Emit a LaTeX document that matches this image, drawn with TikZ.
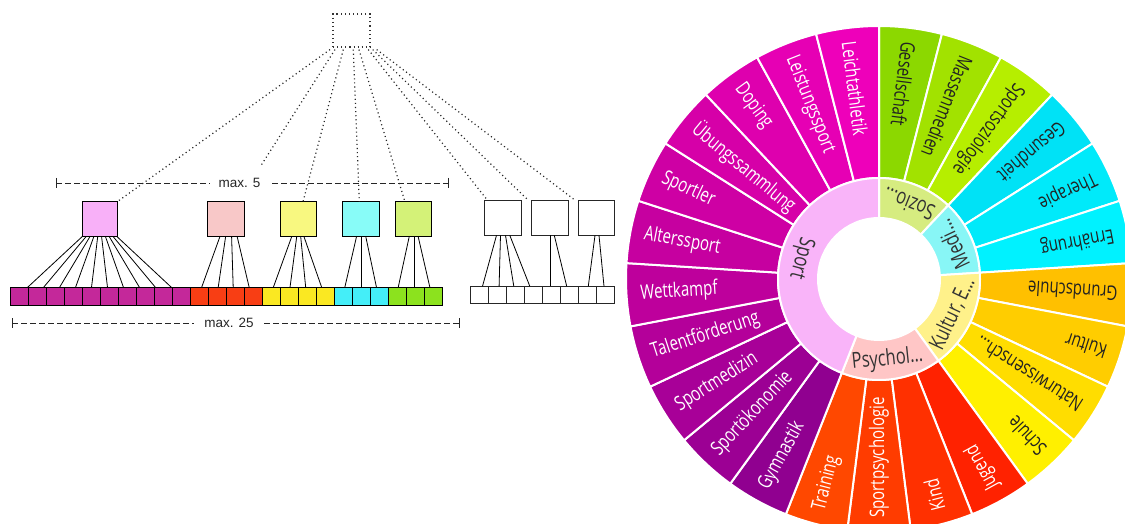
\documentclass[tikz,border=0pt]{standalone}
\usepackage{fontspec}
\newfontfamily\sunfont{Open Sans}
\newfontfamily\treefont{Liberation Sans}
\usetikzlibrary{calc}
\definecolor{bpink}{HTML}{F8B0F8}
\definecolor{bsalmon}{HTML}{F8C8C8}
\definecolor{byellow}{HTML}{F8F880}
\definecolor{bcyan}{HTML}{88FCF8}
\definecolor{bgreen}{HTML}{D4F278}
\definecolor{lmag}{HTML}{C4289A}
\definecolor{lred}{HTML}{F83E14}
\definecolor{lyel}{HTML}{FAE822}
\definecolor{lcya}{HTML}{44EEF8}
\definecolor{lgre}{HTML}{8CE21E}
\definecolor{darktext}{HTML}{222222}
\begin{document}
\begin{tikzpicture}[x=1pt,y=1pt,
  box/.style={draw=black, line width=1pt, minimum width=36pt, minimum height=35pt, inner sep=0pt, outer sep=0pt},
  leaf/.style={draw=black, line width=0.9pt, minimum width=18pt, minimum height=17.5pt, inner sep=0pt, outer sep=0pt},
  dotline/.style={line width=1.2pt, dash pattern=on 1.1pt off 3pt, black!85},
  tedge/.style={line width=0.8pt, black},
  bracket/.style={line width=0.9pt, dash pattern=on 6pt off 3pt, black!85},
  tick/.style={line width=0.9pt, black!85},
  maxlab/.style={fill=white, inner sep=0pt, font=\treefont\fontsize{13.5}{14}\selectfont, text=black!85},
  seg/.style={draw=white, line width=2pt, line join=round},
  olab/.style={font=\sunfont\fontsize{20}{20}\selectfont, inner sep=0pt, anchor=west},
  ilab/.style={font=\sunfont\fontsize{22}{22}\selectfont, inner sep=0pt, text=black!80},
]
\useasboundingbox (0,0) rectangle (1125,-524);
\fill[white] (0,0) rectangle (1125,-524);
\clip (0,0) rectangle (1125,-524);

% ---------------- tree ----------------
\node[draw=black!80, line width=1.2pt, dash pattern=on 1.1pt off 3pt, minimum width=37pt, minimum height=33pt, inner sep=0pt] (root) at (351.5,-30.5) {};

\node[box, fill=bpink, minimum width=35pt] (bP) at (99.8,-219.2) {};
\node[box, fill=bsalmon, minimum width=37pt] (bS) at (226.4,-219.2) {};
\node[box, fill=byellow] (bY) at (298,-219.2) {};
\node[box, fill=bcyan, minimum width=37pt] (bC) at (360.8,-219.2) {};
\node[box, fill=bgreen, minimum width=35.3pt] (bG) at (413.4,-219.2) {};
\node[box, fill=white, draw=black!85, minimum width=37pt, minimum height=35.3pt] (bW1) at (502.8,-217.7) {};
\node[box, fill=white, draw=black!85, minimum width=37.3pt, minimum height=35.3pt] (bW2) at (549.7,-217.7) {};
\node[box, fill=white, draw=black!85, minimum width=35.7pt, minimum height=35.3pt] (bW3) at (596.2,-217.7) {};

\foreach \i/\c in {1/lmag,2/lmag,3/lmag,4/lmag,5/lmag,6/lmag,7/lmag,8/lmag,9/lmag,10/lmag,
                   11/lred,12/lred,13/lred,14/lred,15/lyel,16/lyel,17/lyel,18/lyel,
                   19/lcya,20/lcya,21/lcya,22/lgre,23/lgre,24/lgre}
  \node[leaf, fill=\c] (c\i) at ({1+18*\i},-296.2) {};
\foreach \i in {1,...,8}
  \node[leaf, fill=white, draw=black!85] (w\i) at ({461+18*\i},-295) {};

% edges parent -> leaves
\foreach \s/\e in {-17.7/-72.3,-13.8/-56.3,-9.9/-40.3,-6/-24.3,-2.1/-8.3,1.8/7.7,5.7/23.7,9.5/39.7,13.4/55.7,17.3/71.7}
  \draw[tedge] ([xshift=\s pt]bP.south) -- ([xshift=\e pt]bP.south |- c1.north);
\foreach \s/\e in {-6.5/-24.8,-0.8/-8.2,5.2/6.8,10.8/22.8}
  \draw[tedge] ([xshift=\s pt]bS.south) -- ([xshift=\e pt]bS.south |- c1.north);
\foreach \s/\e in {-6.3/-24.7,-1.3/-8,2.7/7.7,6/23.7}
  \draw[tedge] ([xshift=\s pt]bY.south) -- ([xshift=\e pt]bY.south |- c1.north);
\foreach \s/\e in {-4.3/-16,0.7/0.7,5/15.7}
  \draw[tedge] ([xshift=\s pt]bC.south) -- ([xshift=\e pt]bC.south |- c1.north);
\foreach \s/\e in {-4.2/-15.2,0.5/0.5,4.8/16.5}
  \draw[tedge] ([xshift=\s pt]bG.south) -- ([xshift=\e pt]bG.south |- c1.north);
\foreach \s/\e in {-6.3/-20.3,-2.3/-3.7,2.7/11,7/27}
  \draw[tedge] ([xshift=\s pt]bW1.south) -- ([xshift=\e pt]bW1.south |- w1.north);
\foreach \s/\e in {0.3/0.3,4.6/17}
  \draw[tedge] ([xshift=\s pt]bW2.south) -- ([xshift=\e pt]bW2.south |- w1.north);
\foreach \s/\e in {-1.2/-7.9,2.8/7.8}
  \draw[tedge] ([xshift=\s pt]bW3.south) -- ([xshift=\e pt]bW3.south |- w1.north);

% dotted edges root -> boxes
\draw[dotline] ([xshift=-21.5pt,yshift=-2pt]root.south) -- (bP.north east);
\draw[dotline] ([xshift=-16.5pt,yshift=-2pt]root.south) -- ([xshift=11.5pt]bS.north);
\draw[dotline] ([xshift=-8.2pt,yshift=-2pt]root.south) -- ([xshift=5pt]bY.north);
\draw[dotline] ([xshift=1.8pt,yshift=-2pt]root.south) -- ([xshift=-1.5pt]bC.north);
\draw[dotline] ([xshift=7.5pt,yshift=-2pt]root.south) -- ([xshift=-8.5pt]bG.north);
\draw[dotline] ([xshift=16.8pt,yshift=-2pt]root.south) -- ([xshift=3pt]bW1.north west);
\draw[dotline] ([xshift=21.2pt,yshift=-2pt]root.south) -- ([xshift=-3pt]bW2.north west);
\draw[dotline] ([xshift=25.2pt,yshift=-2pt]root.south) -- ([xshift=-3.5pt]bW3.north west);

% brackets
\coordinate (m5l) at (56,-183);
\coordinate (m5r) at (448,-183);
\draw[bracket] (m5l) -- (m5r);
\draw[tick] ([yshift=5pt]m5l) -- ([yshift=-5pt]m5l);
\draw[tick] ([yshift=5pt]m5r) -- ([yshift=-5pt]m5r);
\node[maxlab, minimum width=59pt, minimum height=36pt] (m5) at (239.5,-183) {max. 5};

\coordinate (m25l) at (12,-323);
\coordinate (m25r) at (459,-323);
\draw[bracket] (m25l) -- (m25r);
\draw[tick] ([yshift=5pt]m25l) -- ([yshift=-5pt]m25l);
\draw[tick] ([yshift=5pt]m25r) -- ([yshift=-5pt]m25r);
\node[maxlab, minimum width=70pt, minimum height=14pt] (m25) at (229,-323) {max. 25};

% ---------------- sunburst ----------------
\begin{scope}[shift={(879,-279)}]
\foreach \t/\lab/\fc/\tc [count=\k] in {
  0/Gesellschaft/8CD800/darktext,
  14.4/Massenmedien/A2E200/darktext,
  28.8/Sportsoziologie/B6EE00/darktext,
  43.2/Gesundheit/00E2F6/darktext,
  57.6/Therapie/00EAFA/darktext,
  72/Ernährung/00F2FF/darktext,
  86.4/Grundschule/FFC000/darktext,
  100.8/Kultur/FFCD00/darktext,
  115.2/Naturwissensch…/FFDD00/darktext,
  129.6/Schule/FFF000/darktext,
  144/Jugend/FF2200/white,
  158.4/Kind/FF3000/white,
  172.8/Sportpsychologie/FF3C00/white,
  187.2/Training/FF4800/white,
  201.6/Gymnastik/900090/white,
  216/Sportökonomie/9C0094/white,
  230.4/Sportmedizin/A80098/white,
  244.8/Talentförderung/B4009A/white,
  259.2/Wettkampf/BE009C/white,
  273.6/Alterssport/C600A0/white,
  288/Sportler/CE00A4/white,
  302.4/Übungssammlung/D600A8/white,
  316.8/Doping/DE00AE/white,
  331.2/Leistungssport/E600B4/white,
  345.6/Leichtathletik/EE00BA/white} {
  \pgfmathsetmacro\aS{90-\t}
  \pgfmathsetmacro\aE{90-\t-14.4}
  \pgfmathsetmacro\aM{90-\t-7.2}
  \pgfmathsetmacro\rot{\aM+180}
  \definecolor{segc}{HTML}{\fc}
  \filldraw[seg, fill=segc] (\aS:101) -- (\aS:253) arc[start angle=\aS, end angle=\aE, radius=253] -- (\aE:101) arc[start angle=\aE, end angle=\aS, radius=101] -- cycle;
  \node[olab, text=\tc, rotate=\rot, xscale=0.75] (out\k) at (\aM:239) {\lab};
}
\foreach \a/\b/\m/\lab/\fc [count=\k] in {
  0/43.2/21.6/{Sozio…}/D6EC80,
  43.2/86.4/64.8/{Medi…}/88F6F6,
  86.4/144/115.2/{Kultur, E…}/FFF18A,
  144/201.6/174/{Psychol…}/FFC6C6,
  201.6/360/285/{Sport}/F9B4F9} {
  \pgfmathsetmacro\aS{90-\a}
  \pgfmathsetmacro\aE{90-\b}
  \pgfmathsetmacro\aM{90-\m}
  \pgfmathsetmacro\rot{\aM+90}
  \definecolor{segc}{HTML}{\fc}
  \filldraw[seg, fill=segc] (\aS:61) -- (\aS:101) arc[start angle=\aS, end angle=\aE, radius=101] -- (\aE:61) arc[start angle=\aE, end angle=\aS, radius=61] -- cycle;
  \node[ilab, rotate=\rot, xscale=0.75] (in\k) at (\aM:81) {\lab};
}
\end{scope}
\end{tikzpicture}
\end{document}
